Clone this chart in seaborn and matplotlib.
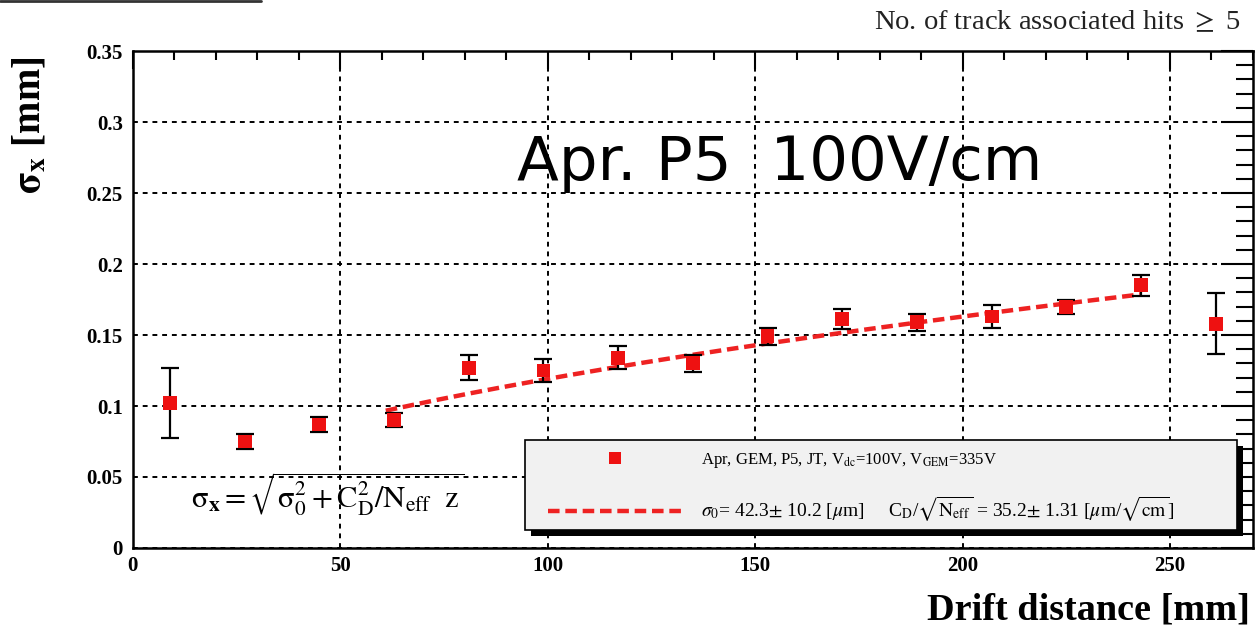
import numpy as np
import pandas as pd
import seaborn as sns
import matplotlib
matplotlib.use("Agg")
import matplotlib.pyplot as plt
from matplotlib.patches import Rectangle
from matplotlib.lines import Line2D
from matplotlib.ticker import MultipleLocator

# Measured spatial resolution vs. drift distance
drift_mm = [9, 27, 45, 63, 81, 99, 117, 135, 153, 171, 189, 207, 225, 243, 261]
sigma_x = [0.102, 0.075, 0.087, 0.090, 0.127, 0.125, 0.134, 0.130,
           0.149, 0.161, 0.159, 0.163, 0.170, 0.185, 0.158]
sigma_err = [0.0245, 0.005, 0.0056, 0.005, 0.009, 0.008, 0.008, 0.006,
             0.006, 0.007, 0.006, 0.008, 0.005, 0.0074, 0.0217]

# Fit parameters: sigma0 [um], C_D/sqrt(N_eff) [um/sqrt(cm)], fit range [mm]
fit_sigma0 = 42.3
fit_cd = 35.2
fit_range = [61, 243]

data_label = r"Apr, GEM, P5, JT, V$_{\rm dc}$=100V, V$_{\rm GEM}$=335V"
fit_label = (r"$\sigma_0$= 42.3$\pm$ 10.2 [$\mu$m]     "
             r"C$_{\rm D}$/$\sqrt{\rm N_{eff}}$ = 35.2$\pm$ 1.31 [$\mu$m/$\sqrt{\rm cm}$]")

df = pd.DataFrame({"drift": drift_mm, "sigma": sigma_x, "err": sigma_err})
z_fit = np.linspace(fit_range[0], fit_range[1], 200)
fit_df = pd.DataFrame({
    "drift": z_fit,
    "sigma": np.sqrt(fit_sigma0 ** 2 + fit_cd ** 2 * z_fit / 10.0) / 1000.0,
})

sns.set_theme(style="white")
plt.rcParams["font.family"] = ["Liberation Serif", "DejaVu Serif"]
plt.rcParams["mathtext.fontset"] = "stix"

fig = plt.figure(figsize=(12.59, 6.41), dpi=100)
ax = fig.add_axes([0.1054, 0.1451, 0.8898, 0.7753])

ax.set_xlim(0, 270)
ax.set_ylim(0, 0.35)

# dotted grid at major ticks
ax.xaxis.set_major_locator(MultipleLocator(50))
ax.xaxis.set_minor_locator(MultipleLocator(10))
ax.yaxis.set_major_locator(MultipleLocator(0.05))
ax.yaxis.set_minor_locator(MultipleLocator(0.01))
ax.grid(True, which="major", color="black", linestyle=(0, (2.5, 2.5)), linewidth=1.4)
ax.set_axisbelow(True)

# fit curve
sns.lineplot(data=fit_df, x="drift", y="sigma", ax=ax, color="#ee2222",
             linewidth=3.2, dashes=False, zorder=3)
ax.lines[-1].set_linestyle((0, (2.6, 1.3)))

# error bars and points
ax.errorbar(df["drift"], df["sigma"], yerr=df["err"], fmt="none",
            ecolor="black", elinewidth=1.6, capsize=6.5, capthick=1.6, zorder=4)
sns.scatterplot(data=df, x="drift", y="sigma", ax=ax, marker="s", s=100,
                color="#ee1111", edgecolor="none", linewidth=0, zorder=5)

ax.set_xlabel("")
ax.set_ylabel("")

for s in ax.spines.values():
    s.set_linewidth(1.8)
    s.set_color("black")

ax.tick_params(axis="both", which="both", direction="in", top=True, right=True,
               color="black", width=1.5)
ax.tick_params(axis="x", which="major", length=13, pad=6)
ax.tick_params(axis="x", which="minor", length=6.5)
ax.tick_params(axis="y", which="major", length=23, pad=7)
ax.tick_params(axis="y", which="minor", length=12)

xt = [0, 50, 100, 150, 200, 250]
yt = [0, 0.05, 0.1, 0.15, 0.2, 0.25, 0.3, 0.35]
ax.set_xticks(xt)
ax.set_xticklabels([str(v) for v in xt])
ax.set_yticks(yt)
ax.set_yticklabels(["0", "0.05", "0.1", "0.15", "0.2", "0.25", "0.3", "0.35"])
for lab in ax.get_xticklabels() + ax.get_yticklabels():
    lab.set_fontweight("bold")
    lab.set_fontsize(15)
    lab.set_color("black")

# axis titles
fig.text(0.993, 0.048, "Drift distance [mm]", ha="right", va="center",
         fontsize=27.5, fontweight="bold", color="black")
fig.text(0.024, 0.805, r"$\mathbf{\sigma_x}$ [mm]", ha="center", va="center",
         rotation=90, fontsize=28, fontweight="bold", color="black")

fig.text(0.985, 0.966, r"No. of track associated hits $\geq$ 5", ha="right",
         va="center", fontsize=20.5, color="#222222")

# run label
ax.text(156, 0.271, "Apr. P5  100V/cm", ha="center", va="center",
        fontsize=44, family="DejaVu Sans", color="black")

# resolution formula
ax.text(14, 0.0375,
        r"$\mathrm{\sigma}_{\mathbf{x}} = \sqrt{\mathrm{\sigma}_0^2 + \mathrm{C}_\mathrm{D}^2/\mathrm{N}_{\mathrm{eff}}\ \ \mathrm{z}}$",
        ha="left", va="center", fontsize=22, color="black")

# legend box with drop shadow
box_x0, box_y0, box_w, box_h = 0.350, 0.036, 0.636, 0.181
sx, sy = 6 / 1120.3, 6 / 497.0
ax.add_patch(Rectangle((box_x0 + sx, box_y0 - sy), box_w, box_h,
                       transform=ax.transAxes, facecolor="black",
                       edgecolor="none", zorder=6, clip_on=False))
ax.add_patch(Rectangle((box_x0, box_y0), box_w, box_h, transform=ax.transAxes,
                       facecolor="#f1f1f1", edgecolor="black", linewidth=1.2,
                       zorder=7, clip_on=False))

handles = [
    Line2D([], [], linestyle="none", marker="s", markersize=9,
           color="#ee1111", markeredgewidth=0),
    Line2D([], [], color="#ee2222", linewidth=3.2, linestyle=(0, (2.6, 1.3))),
]
leg = ax.legend(handles, [data_label, fit_label], loc="upper left",
                bbox_to_anchor=(0.3707, 0.196), frameon=False, fontsize=12,
                handlelength=8.0, handletextpad=1.2, labelspacing=1.5,
                borderpad=0, borderaxespad=0)
leg.set_zorder(8)
for t in leg.get_texts():
    t.set_color("black")
leg.get_texts()[1].set_fontsize(14)

# stray frame fragment at top-left
fig.add_artist(Line2D([0, 0.207], [0.998, 0.998], color="#333333",
                      linewidth=2, transform=fig.transFigure))

fig.savefig("out.png", dpi=100, facecolor="white")
